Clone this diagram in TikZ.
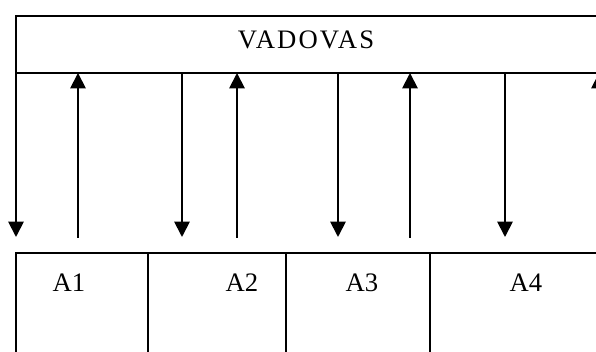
\documentclass[tikz,border=0pt]{standalone}
\usepackage{fontspec}
\setmainfont{Liberation Serif}
\usetikzlibrary{arrows.meta,positioning}

\begin{document}
\begin{tikzpicture}[x=0.75pt,y=0.75pt,line width=1.4pt,
                    >={Triangle[length=11.5pt,width=11.5pt]}]
	\tikzstyle{box}=[draw=black,rectangle,inner sep=0pt,outer sep=0pt,minimum height=87.75pt]
	\tikzstyle{lbl}=[anchor=base,inner sep=0pt,font=\fontsize{20}{22}\selectfont]

	\useasboundingbox (0,0) rectangle (596,352);
	\clip (0,0) rectangle (596,352);

	% top block, runs off the right side
	\node[draw=black,rectangle,inner sep=0pt,outer sep=0pt,anchor=north west,
	      minimum width=445.5pt,minimum height=42.75pt] (vadovas) at (16,336) {};
	\node[lbl] (vtxt) at (306,303) {\addfontfeatures{LetterSpace=8}VADOVAS};

	% row of units below
	\node[box,anchor=north west,minimum width=99pt]	(A1)	at (16,99)	{};
	\node[box,minimum width=103.5pt]	(A2)	[right=0pt of A1]	{};
	\node[box,minimum width=108pt]	(A3)	[right=0pt of A2]	{};
	\node[box,minimum width=142.5pt]	(A4)	[right=0pt of A3]	{};

	\node[lbl] (l1) at (69,60)	{A1};
	\node[lbl] (l2) at (242,60)	{A2};
	\node[lbl] (l3) at (362,60)	{A3};
	\node[lbl] (l4) at (526,60)	{A4};

	% free ends of the arrows
	\coordinate (d1) at (16,115);
	\coordinate (d2) at (182,115);
	\coordinate (d3) at (338,115);
	\coordinate (d4) at (505,115);
	\coordinate (u1) at (78,114);
	\coordinate (u2) at (237,114);
	\coordinate (u3) at (410,114);
	\coordinate (u4) at (599,114);

	\foreach \i in {1,...,4} {
		\draw[->] (d\i |- vadovas.south) -- (d\i);
		\draw[->] (u\i) -- (u\i |- vadovas.south);
	}
\end{tikzpicture}
\end{document}
